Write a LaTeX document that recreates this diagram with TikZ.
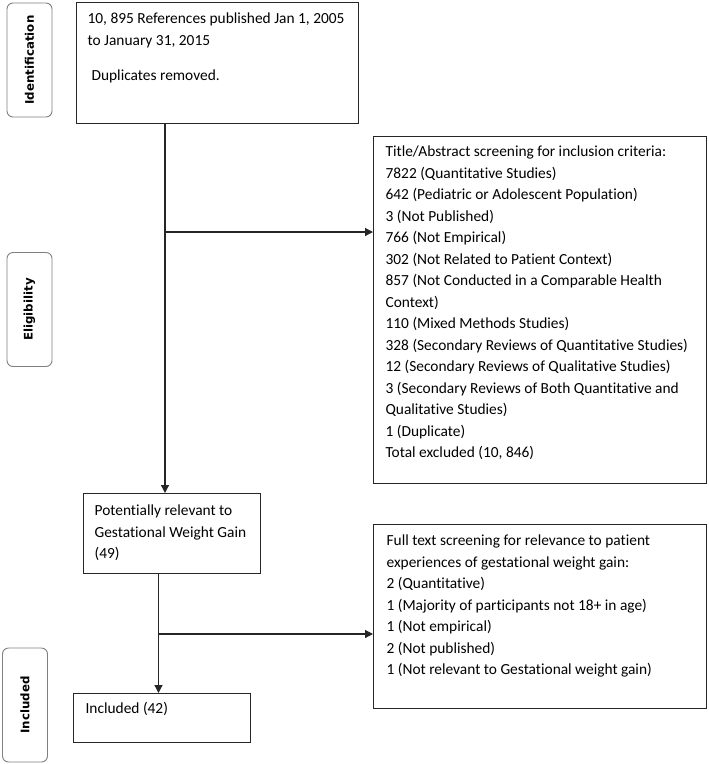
\documentclass[tikz,border=0pt]{standalone}
\usepackage{fontspec}
\setmainfont{Carlito}[RawFeature={-liga;-clig;-dlig}]
\newfontfamily\labfont{DejaVu Sans}
\usetikzlibrary{arrows.meta}
\newcommand{\bxt}[5]{\parbox[t][#2][t]{#1}{\vspace*{#3}\leftskip=#4\relax\rightskip=0pt plus 1fil\parindent=0pt\noindent\rule{0pt}{12pt}#5}}
\tikzset{
  box/.style={draw=black!85, line width=1.2pt, inner sep=0pt, anchor=north west,
    font=\fontsize{15.4pt}{21.5pt}\selectfont},
  lab/.style={draw=black!50, line width=0.9pt, rounded corners=6pt, rotate=90,
    minimum width=114pt, minimum height=45pt, inner sep=0pt,
    font=\labfont\bfseries\fontsize{11.8pt}{13pt}\selectfont},
  conn/.style={line width=1.2pt, draw=black!85},
  arr/.style={conn, -{Triangle[length=8pt,width=8pt]}}
}
\begin{document}
\begin{tikzpicture}[x=1pt, y=-1pt]
\useasboundingbox (0,0) rectangle (709,764);
% phase labels
\node[lab] (idl) at (29.5,60) {Identification};
\node[lab] (ell) at (29.5,309.5) {Eligibility};
\node[lab] (inl) at (25,705) {Included};
% boxes
\node[box] (refs) at (76,2) {\bxt{282pt}{121pt}{9pt}{11pt}{10, 895 References published Jan 1, 2005\\to January 31, 2015\\[13.5pt]\hspace*{4pt}Duplicates removed.}};
\node[box] (scr) at (373,136) {\bxt{333pt}{347pt}{8pt}{12pt}{Title/Abstract screening for inclusion criteria:\\
7822 (Quantitative Studies)\\
642 (Pediatric or Adolescent Population)\\
3 (Not Published)\\
766 (Not Empirical)\\
302 (Not Related to Patient Context)\\
857 (Not Conducted in a Comparable Health\\
Context)\\
110 (Mixed Methods Studies)\\
328 (Secondary Reviews of Quantitative Studies)\\
12 (Secondary Reviews of Qualitative Studies)\\
3 (Secondary Reviews of Both Quantitative and\\
Qualitative Studies)\\
1 (Duplicate)\\
Total excluded (10, 846)}};
\node[box] (pot) at (83,493) {\bxt{177pt}{80pt}{10pt}{11pt}{Potentially relevant to\\Gestational Weight Gain\\(49)}};
\node[box] (full) at (373,524) {\bxt{333pt}{184pt}{9pt}{13pt}{Full text screening for relevance to patient\\
experiences of gestational weight gain:\\
2 (Quantitative)\\
1 (Majority of participants not 18+ in age)\\
1 (Not empirical)\\
2 (Not published)\\
1 (Not relevant to Gestational weight gain)}};
\node[box] (inc) at (73,693) {\bxt{177pt}{49pt}{8pt}{12pt}{Included (42)}};
% connectors
\coordinate (c1) at (165,0);
\coordinate (c2) at (158.5,0);
\coordinate (b1) at (165,232);
\coordinate (b2) at (158.5,634);
\draw[arr] (refs.south -| c1) -- (pot.north -| c1);
\draw[arr] (b1) -- (b1 -| scr.west);
\draw[arr] (pot.south -| c2) -- (inc.north -| c2);
\draw[arr] (b2) -- (b2 -| full.west);
\end{tikzpicture}
\end{document}
